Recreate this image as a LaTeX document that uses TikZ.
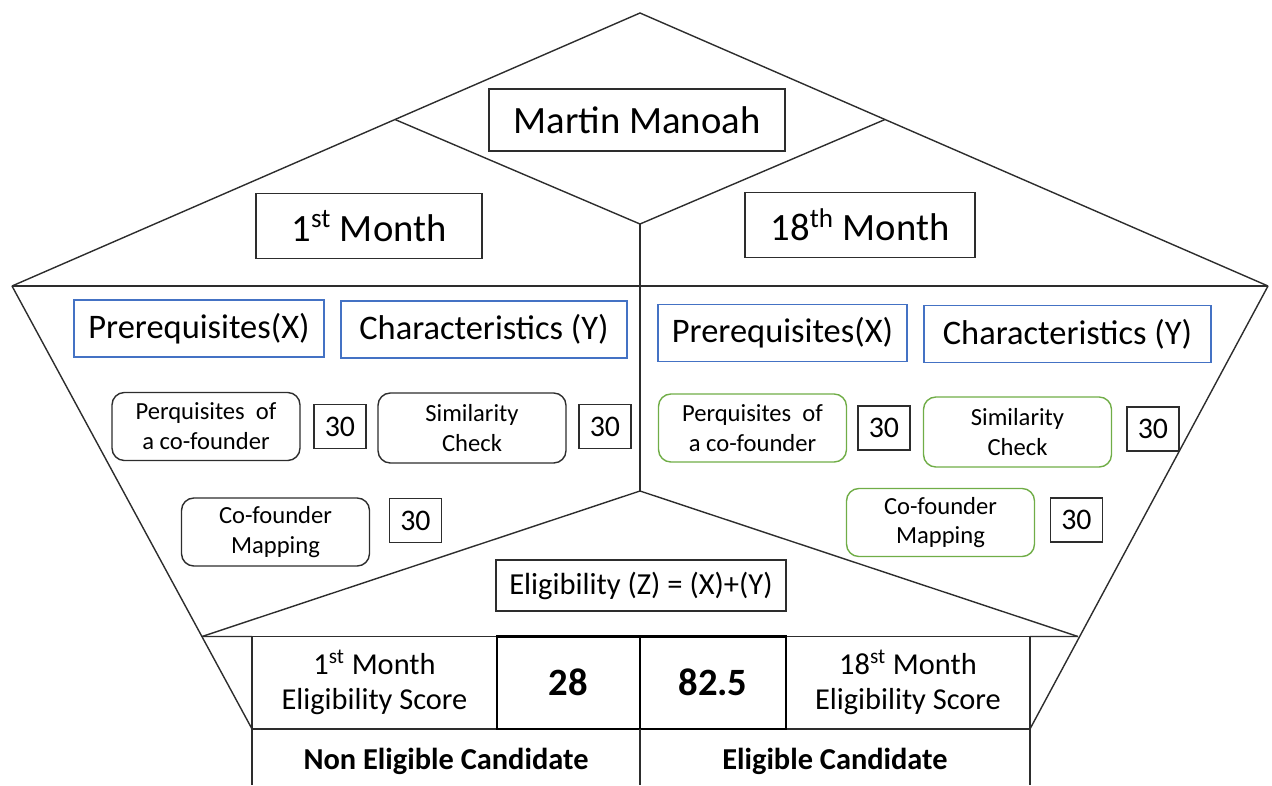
\documentclass[tikz,border=0pt]{standalone}
\usepackage{fontspec}
\setmainfont{Carlito}
\usetikzlibrary{positioning}
\definecolor{boxblue}{RGB}{68,114,196}
\definecolor{boxgreen}{RGB}{112,173,71}
\definecolor{linegray}{RGB}{45,45,45}

\begin{document}
\begin{tikzpicture}[
    x=0.02cm, y=-0.02cm,
    every node/.style={inner sep=0pt, outer sep=0pt, align=center, text=black},
    edge/.style={draw=linegray, line width=0.8pt},
    titlebox/.style={rectangle, draw=linegray, line width=0.8pt, minimum height=1.3cm, font=\fontsize{22}{26}\selectfont},
    bluebox/.style={rectangle, draw=boxblue, line width=0.8pt, minimum height=1.14cm, font=\fontsize{19.6}{23}\selectfont},
    stepbox/.style={rectangle, draw=#1, rounded corners=7pt, line width=0.8pt, minimum width=3.76cm, minimum height=1.36cm, font=\fontsize{14}{17}\selectfont},
    numbox/.style={rectangle, draw=linegray, line width=0.8pt, minimum width=1.04cm, minimum height=0.88cm, font=\fontsize{17}{20}\selectfont},
    cellbox/.style={rectangle, draw=linegray, line width=0.8pt, minimum height=1.85cm, font=\fontsize{17.3}{20}\selectfont},
    scorecell/.style={cellbox, draw=black, line width=1.6pt, font=\fontsize{22}{26}\selectfont\bfseries},
    verdict/.style={minimum height=1.12cm, text height=14.8pt, text depth=0pt, font=\fontsize{17.3}{20}\selectfont\bfseries}
]
    \useasboundingbox (0,0) rectangle (1272,785);

    % outline corners
    \coordinate (apex) at (640,13);
    \coordinate (lv) at (12,286);
    \coordinate (rv) at (1268,286);
    \coordinate (vl) at (395,119.5);
    \coordinate (vr) at (885,119.5);
    \coordinate (vc) at (640,224);
    \coordinate (hub) at (640,491);
    \coordinate (bl) at (202,636.5);
    \coordinate (br) at (1078,636.5);

    % headings
    \node (name) [titlebox, minimum width=5.92cm, minimum height=1.24cm] at (637,120) {Martin Manoah};
    \node (mfirst) [titlebox, minimum width=4.52cm] at (369,226) {1\textsuperscript{st} Month};
    \node (mlast) [titlebox, minimum width=4.6cm] at (860,225) {18\textsuperscript{th} Month};

    \node (preL) [bluebox, minimum width=5.0cm] at (199,328.5) {Prerequisites(X)};
    \node (chaL) [bluebox, minimum width=5.72cm] at (484,329.5) {Characteristics (Y)};
    \node (preR) [bluebox, minimum width=4.98cm] at (782.5,333) {Prerequisites(X)};
    \node (chaR) [bluebox, minimum width=5.74cm] at (1067.5,334) {Characteristics (Y)};

    % 1st month criteria
    \node (perqL) [stepbox=linegray] at (206,426.5) {Perquisites~~of\\a co-founder};
    \node (scoreL1) [numbox, right=0.28cm of perqL] {30};
    \node (simL) [stepbox=linegray, minimum height=1.4cm] at (472,428) {Similarity\\Check};
    \node (scoreL2) [numbox, right=0.26cm of simL, yshift=0.03cm] {30};
    \node (mapL) [stepbox=linegray] at (275.5,532) {Co-founder\\Mapping};
    \node (scoreL3) [numbox, right=0.4cm of mapL, yshift=0.23cm] {30};

    % 18th month criteria
    \node (perqR) [stepbox=boxgreen] at (752.5,428) {Perquisites~~of\\a co-founder};
    \node (scoreR1) [numbox, right=0.23cm of perqR] {30};
    \node (simR) [stepbox=boxgreen, minimum height=1.4cm] at (1017.5,432) {Similarity\\Check};
    \node (scoreR2) [numbox, right=0.31cm of simR, yshift=0.06cm] {30};
    \node (mapR) [stepbox=boxgreen] at (940.5,522.5) {Co-founder\\Mapping};
    \node (scoreR3) [numbox, right=0.32cm of mapR, yshift=0.05cm] {30};

    \node (formula) [numbox, minimum width=5.8cm, minimum height=1.02cm, font=\fontsize{17.4}{20}\selectfont] at (641,585.5) {Eligibility (Z) = (X)+(Y)};

    % result table
    \node (cfirst) [cellbox, minimum width=4.9cm] at (374.5,682.75) {1\textsuperscript{st} Month\\Eligibility Score};
    \node (clast) [cellbox, minimum width=4.88cm] at (908,682.75) {18\textsuperscript{st} Month\\Eligibility Score};
    \node (sfirst) [scorecell, minimum width=2.86cm] at (568.5,682.75) {28};
    \node (slast) [scorecell, minimum width=2.92cm, right=0pt of sfirst] {82.5};
    \node (nonel) [verdict, minimum width=7.76cm, anchor=north west] at (cfirst.south west) {Non Eligible Candidate};
    \node (elig) [verdict, minimum width=7.8cm, anchor=north west] at (slast.south west) {Eligible Candidate};

    % outline
    \draw[edge] (lv) -- (apex) -- (rv);
    \draw[edge] (lv) -- (rv);
    \draw[edge] (lv) -- (cfirst.south west);
    \draw[edge] (rv) -- (clast.south east);
    \draw[edge] (vl) -- (vc) -- (vr);
    \draw[edge] (vc) -- (hub);
    \draw[edge] (bl) -- (hub) -- (br);
    \draw[edge] (bl) -- (cfirst.north west);
    \draw[edge] (clast.north east) -- (br);
    \draw[edge] (nonel.north west) -- (nonel.south west);
    \draw[edge] (elig.north west) -- (elig.south west);
    \draw[edge] (elig.north east) -- (elig.south east);
\end{tikzpicture}
\end{document}
